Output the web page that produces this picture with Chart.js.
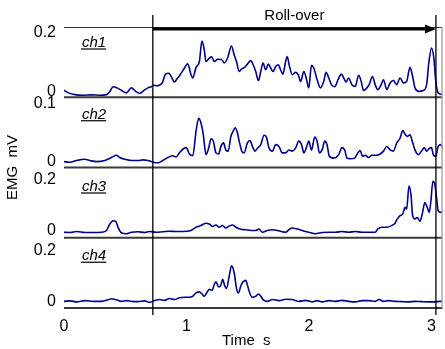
<!DOCTYPE html>
<html><head><meta charset="utf-8">
<script src="https://cdn.jsdelivr.net/npm/chart.js@4/dist/chart.umd.min.js"></script>
<style>html,body{margin:0;padding:0;background:#fff;overflow:hidden}#wrap{position:relative;width:445px;height:349px}</style>
</head><body><div id="wrap"><canvas id="c" width="445" height="349"></canvas></div>
<script>
const channelNames = ['ch1','ch2','ch3','ch4'];
const ch1Time = [0,0.035,0.089,0.157,0.225,0.292,0.347,0.374,0.401,0.433,0.468,0.509,0.550,0.585,0.617,0.658,0.685,0.712,0.734,0.758,0.780,0.802,0.829,0.856,0.875,0.902,0.921,0.948,0.975,1.010,1.037,1.051,1.078,1.105,1.126,1.145,1.159,1.186,1.205,1.227,1.254,1.286,1.308,1.335,1.367,1.389,1.408,1.430,1.451,1.473,1.497,1.525,1.538,1.565,1.587,1.606,1.625,1.646,1.668,1.687,1.706,1.728,1.749,1.768,1.787,1.809,1.822,1.841,1.863,1.890,1.912,1.931,1.958,1.977,1.998,2.020,2.039,2.066,2.093,2.120,2.139,2.161,2.183,2.210,2.237,2.264,2.283,2.302,2.323,2.350,2.377,2.405,2.426,2.445,2.472,2.491,2.518,2.540,2.562,2.589,2.608,2.635,2.662,2.689,2.716,2.743,2.770,2.797,2.824,2.843,2.865,2.897,2.933,2.960,2.979,3.000,3.019,3.035,3.054,3.095];
const ch1Value = [0.004,-0.005,-0.011,-0.013,-0.012,-0.013,-0.011,0.000,0.016,0.012,
0.004,-0.005,0.012,0.000,-0.007,0.005,0.012,0.016,0.021,0.019,
0.022,0.029,0.059,0.062,0.051,0.032,0.042,0.057,0.074,0.094,
0.057,0.046,0.082,0.102,0.172,0.142,0.102,0.114,0.118,0.102,
0.110,0.109,0.097,0.114,0.155,0.125,0.102,0.068,0.077,0.082,
0.093,0.105,0.097,0.068,0.037,0.068,0.097,0.074,0.093,0.080,
0.068,0.085,0.091,0.074,0.059,0.102,0.119,0.085,0.057,0.065,
0.057,0.034,0.068,0.046,0.012,0.089,0.080,0.040,0.012,0.034,
0.065,0.046,0.023,0.016,0.040,0.059,0.046,0.032,0.046,0.023,
0.017,0.055,0.034,0.003,0.012,0.023,0.051,0.023,0.006,0.023,
0.040,0.006,0.029,0.037,0.023,0.046,0.029,0.034,0.082,0.057,
0.012,0.000,0.003,0.023,0.102,0.148,0.114,0.034,-0.005,-0.011];
const ch2Time = [0,0.049,0.103,0.171,0.211,0.265,0.333,0.387,0.428,0.455,
0.496,0.550,0.604,0.644,0.685,0.726,0.766,0.807,0.848,0.888,
0.915,0.942,0.975,0.997,1.024,1.051,1.078,1.099,1.118,1.137,
1.159,1.181,1.200,1.219,1.240,1.262,1.281,1.302,1.321,1.340,
1.362,1.381,1.397,1.416,1.430,1.451,1.470,1.497,1.519,1.538,
1.560,1.579,1.606,1.633,1.652,1.674,1.701,1.728,1.755,1.782,
1.809,1.836,1.863,1.890,1.917,1.939,1.958,1.977,1.998,2.020,
2.047,2.066,2.085,2.107,2.128,2.147,2.166,2.201,2.242,2.269,
2.291,2.310,2.337,2.372,2.399,2.418,2.437,2.459,2.486,2.513,
2.554,2.581,2.608,2.635,2.662,2.689,2.716,2.743,2.765,2.784,
2.805,2.824,2.843,2.865,2.892,2.919,2.941,2.960,2.979,3.000,
3.014,3.035,3.054,3.076,3.095];
const ch2Value = [0.000,-0.001,0.002,0.004,0.002,0.000,0.002,0.007,0.011,0.007,
0.004,0.002,0.002,0.003,0.002,-0.001,-0.002,0.002,0.007,0.010,
0.008,0.015,0.022,0.024,0.013,0.010,0.052,0.074,0.066,0.046,
0.012,0.023,0.039,0.035,0.015,0.013,0.026,0.032,0.020,0.018,
0.043,0.052,0.058,0.049,0.035,0.018,0.015,0.032,0.036,0.026,
0.018,0.023,0.029,0.045,0.042,0.023,0.018,0.029,0.026,0.015,
0.015,0.020,0.018,0.023,0.035,0.029,0.015,0.023,0.035,0.020,
0.042,0.035,0.015,0.020,0.035,0.029,0.009,0.006,0.012,0.024,
0.020,0.006,0.005,0.006,0.015,0.019,0.009,0.011,0.007,0.011,
0.011,0.013,0.018,0.026,0.020,0.018,0.032,0.040,0.053,0.047,
0.043,0.046,0.035,0.020,0.012,0.018,0.024,0.018,0.022,0.024,
0.012,0.009,0.026,0.029,0.020];
const ch3Time = [0,0.049,0.103,0.171,0.238,0.306,0.347,0.374,0.401,0.422,
0.441,0.468,0.509,0.550,0.604,0.658,0.699,0.753,0.807,0.861,
0.915,0.969,1.037,1.078,1.118,1.159,1.186,1.213,1.240,1.267,
1.294,1.321,1.349,1.376,1.403,1.443,1.484,1.525,1.565,1.592,
1.619,1.660,1.701,1.741,1.782,1.809,1.836,1.863,1.904,1.944,
1.998,2.053,2.107,2.161,2.215,2.269,2.323,2.377,2.432,2.486,
2.540,2.562,2.594,2.635,2.675,2.702,2.716,2.743,2.765,2.784,
2.797,2.816,2.832,2.846,2.865,2.884,2.906,2.924,2.946,2.965,
2.981,2.995,3.011,3.027,3.041,3.054,3.076,3.095];
const ch3Value = [-0.008,-0.009,-0.005,-0.009,-0.009,-0.008,-0.001,0.025,0.038,0.036,
0.012,-0.010,-0.014,-0.008,-0.006,-0.009,-0.005,-0.008,-0.006,-0.004,
-0.005,-0.005,-0.001,0.012,0.019,0.028,0.025,0.015,0.021,0.012,
0.019,0.009,0.017,0.021,0.012,0.004,0.002,-0.001,-0.001,0.005,
-0.008,-0.001,0.002,-0.001,-0.006,-0.008,0.002,0.009,0.005,-0.001,
-0.008,-0.014,-0.009,-0.008,-0.008,-0.005,-0.008,-0.005,-0.008,-0.008,
-0.008,0.005,0.012,0.012,0.019,0.028,0.041,0.058,0.064,0.091,
0.084,0.176,0.143,0.058,0.045,0.051,0.036,0.064,0.110,0.091,
0.071,0.117,0.195,0.182,0.130,0.078,0.071,0.078];
const ch4Time = [0,0.049,0.103,0.171,0.238,0.306,0.360,0.387,0.428,0.468,
0.509,0.550,0.604,0.658,0.699,0.739,0.780,0.820,0.861,0.902,
0.942,0.983,1.024,1.051,1.078,1.105,1.126,1.145,1.164,1.186,
1.208,1.227,1.240,1.262,1.281,1.294,1.313,1.327,1.349,1.367,
1.389,1.408,1.424,1.443,1.462,1.484,1.497,1.516,1.538,1.565,
1.587,1.606,1.625,1.660,1.701,1.755,1.809,1.863,1.917,1.971,
2.025,2.066,2.107,2.161,2.215,2.269,2.323,2.377,2.432,2.486,
2.540,2.572,2.608,2.648,2.702,2.757,2.811,2.865,2.919,2.973,
3.027,3.068,3.095];
const ch4Value = [0.001,0.003,-0.001,0.004,0.001,0.001,0.007,0.011,0.007,0.001,
0.004,0.001,0.000,0.003,-0.003,0.004,0.008,0.005,0.012,0.008,
0.015,0.017,0.017,0.021,0.034,0.038,0.030,0.021,0.034,0.048,
0.044,0.067,0.078,0.057,0.065,0.087,0.061,0.052,0.101,0.140,
0.114,0.052,0.034,0.061,0.078,0.083,0.065,0.034,0.017,0.021,
0.030,0.021,0.008,0.001,0.008,0.004,0.009,0.008,0.001,0.005,
-0.001,0.004,-0.001,0.004,0.001,0.005,0.001,-0.001,0.004,0.004,
0.001,0.008,0.001,0.004,0.001,0.000,-0.001,0.001,0.000,-0.001,
-0.001,0.001,0.001];
const xTickValues = [0,1,2,3];
const yTickValues = [[0,0.2],[0,0.1],[0,0.2],[0,0.2]];
const yRanges = [[-0.02,0.22],[-0.01,0.11],[-0.03,0.25],[-0.025,0.25]];
const xRange = [0, 3.09];
const rollOverLabel = 'Roll-over';
const rollOverStart = 0.725;
const rollOverEnd = 3.036;
const xTitle = 'Time  s';
const yTitle = 'EMG  mV';

const times = [ch1Time, ch2Time, ch3Time, ch4Time];
const values = [ch1Value, ch2Value, ch3Value, ch4Value];
const FONT = "'Liberation Sans', Arial, sans-serif";
const LINE = '#00008a';

const datasets = channelNames.map((n, i) => ({
  label: n,
  data: times[i].map((t, k) => ({x: t, y: values[i][k]})),
  yAxisID: 'y' + (i + 1),
  borderColor: LINE,
  borderWidth: 1.6,
  pointRadius: 0,
  fill: false,
  cubicInterpolationMode: 'monotone'
}));

const scales = {
  x: {
    type: 'linear', min: xRange[0], max: xRange[1],
    afterBuildTicks: s => { s.ticks = xTickValues.map(v => ({value: v})); },
    afterFit: s => { s.height = 41; },
    grid: {display: false, drawTicks: false},
    border: {display: false},
    ticks: {color: '#000', font: {family: FONT, size: 16}, padding: 9, maxRotation: 0,
      callback: v => String(v)}
  }
};
// stacked axes are laid out bottom-up in definition order, so add the last channel first
for (let i = channelNames.length - 1; i >= 0; i--) {
  scales['y' + (i + 1)] = {
    type: 'linear', position: 'left', stack: 'emg', stackWeight: 1, offset: false,
    min: yRanges[i][0], max: yRanges[i][1],
    afterBuildTicks: s => { s.ticks = yTickValues[i].map(v => ({value: v})); },
    afterFit: s => { s.width = 64; },
    grid: {display: false, drawTicks: false},
    border: {display: false},
    ticks: {color: '#000', font: {family: FONT, size: 16}, padding: 8,
      callback: v => String(v)}
  };
}

const decor = {
  id: 'decor',
  afterDatasetsDraw(chart) {
    const ctx = chart.ctx, a = chart.chartArea, xs = chart.scales.x;
    const ys = channelNames.map((n, i) => chart.scales['y' + (i + 1)]);
    ctx.save();
    const topY = Math.min(...ys.map(s => s.top));
    ctx.strokeStyle = '#333'; ctx.lineWidth = 1;
    ctx.beginPath(); ctx.moveTo(a.left, topY + 0.5); ctx.lineTo(a.right, topY + 0.5); ctx.stroke();
    ctx.strokeStyle = '#3a3a3a'; ctx.lineWidth = 2;
    ys.forEach(s => { ctx.beginPath(); ctx.moveTo(a.left, s.bottom); ctx.lineTo(a.right, s.bottom); ctx.stroke(); });
    ctx.strokeStyle = '#aaa'; ctx.lineWidth = 1.5;
    ctx.beginPath(); ctx.moveTo(a.right - 0.5, a.top); ctx.lineTo(a.right - 0.5, a.bottom); ctx.stroke();
    const x0 = xs.getPixelForValue(rollOverStart), x1 = xs.getPixelForValue(rollOverEnd);
    ctx.strokeStyle = '#000'; ctx.lineWidth = 1.3;
    [x0, x1].forEach(x => { ctx.beginPath(); ctx.moveTo(x, a.top - 12); ctx.lineTo(x, a.bottom + 7); ctx.stroke(); });
    const ay = a.top + 2;
    ctx.lineWidth = 3;
    ctx.beginPath(); ctx.moveTo(x0, ay); ctx.lineTo(x1 - 9, ay); ctx.stroke();
    ctx.fillStyle = '#000';
    ctx.beginPath(); ctx.moveTo(x1, ay); ctx.lineTo(x1 - 11, ay - 4.5); ctx.lineTo(x1 - 11, ay + 4.5); ctx.closePath(); ctx.fill();
    ctx.font = '15px ' + FONT; ctx.textAlign = 'center'; ctx.textBaseline = 'middle';
    ctx.fillText(rollOverLabel, (x0 + x1) / 2, a.top - 11);
    const chOffsets = [20, 21.5, 23.5, 22.5];
    ctx.font = 'italic 15px ' + FONT; ctx.textAlign = 'left'; ctx.textBaseline = 'alphabetic';
    ys.forEach((s, i) => {
      const tx = a.left + 18, ty = s.top + chOffsets[i];
      ctx.fillText(channelNames[i], tx, ty);
      const w = ctx.measureText(channelNames[i]).width;
      ctx.lineWidth = 1.2; ctx.beginPath(); ctx.moveTo(tx - 1, ty + 2); ctx.lineTo(tx + w, ty + 2); ctx.stroke();
    });
    ctx.font = '15px ' + FONT; ctx.textAlign = 'center'; ctx.textBaseline = 'middle';
    ctx.fillText(xTitle, (a.left + a.right) / 2 - 7, 341);
    ctx.translate(13, (a.top + a.bottom) / 2); ctx.rotate(-Math.PI / 2);
    ctx.fillText(yTitle, 0, 0);
    ctx.restore();
  }
};

new Chart(document.getElementById('c'), {
  type: 'line',
  data: {datasets},
  options: {
    responsive: false, animation: false, devicePixelRatio: 1,
    layout: {padding: {top: 27, right: 1, bottom: 0, left: 0}},
    plugins: {legend: {display: false}, tooltip: {enabled: false}, title: {display: false}},
    scales
  },
  plugins: [decor]
});
</script></body></html>
